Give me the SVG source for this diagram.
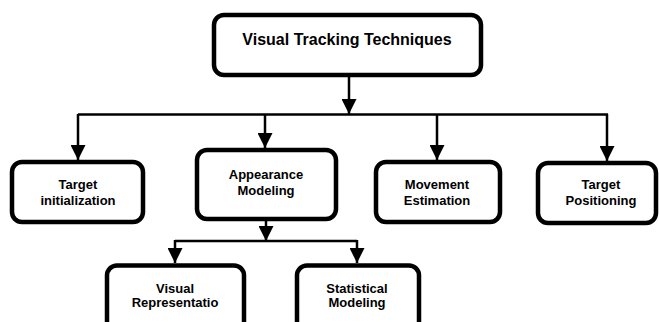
<svg xmlns="http://www.w3.org/2000/svg" width="659" height="322" viewBox="0 0 659 322">
<style>
.box{fill:#fff;stroke:#000;stroke-width:4.5}
.lbl{font-family:"Liberation Sans",Arial,sans-serif;font-weight:bold;font-size:13px;fill:#000;text-anchor:middle}
.ttl{font-size:16px}
.con{fill:none;stroke:#000;stroke-width:2.5}
</style>
<defs>
<marker id="ah" markerUnits="userSpaceOnUse" markerWidth="15" markerHeight="15" refX="15" refY="7.5" orient="auto" viewBox="0 0 15 15">
<path d="M0,0 L15,7.5 L0,15 z" fill="#000"/>
</marker>
</defs>
<rect width="659" height="322" fill="#fff"/>
<g id="connectors">
<path class="con" d="M349,77 V114" marker-end="url(#ah)"/>
<path class="con" d="M78,114.5 H608" stroke-width="3"/>
<path class="con" d="M78,114 V160" marker-end="url(#ah)"/>
<path class="con" d="M265,114 V148" marker-end="url(#ah)"/>
<path class="con" d="M437,114 V160" marker-end="url(#ah)"/>
<path class="con" d="M607,114 V161" marker-end="url(#ah)"/>
<path class="con" d="M266,221 V241" marker-end="url(#ah)"/>
<path class="con" d="M175,241 H357"/>
<path class="con" d="M175,240 V263" marker-end="url(#ah)"/>
<path class="con" d="M357,240 V263" marker-end="url(#ah)"/>
</g>
<g id="n-root">
<rect class="box" x="214" y="15" width="267" height="60" rx="10"/>
<text class="lbl ttl" x="347" y="45">Visual Tracking Techniques</text>
</g>
<g id="n-init">
<rect class="box" x="12" y="162" width="131" height="60" rx="10"/>
<text class="lbl" x="78" y="189">Target</text>
<text class="lbl" x="78" y="205">initialization</text>
</g>
<g id="n-appearance">
<rect class="box" x="197" y="150" width="139" height="69" rx="10"/>
<text class="lbl" x="266" y="179">Appearance</text>
<text class="lbl" x="266" y="195">Modeling</text>
</g>
<g id="n-movement">
<rect class="box" x="376" y="162" width="124" height="60" rx="10"/>
<text class="lbl" x="437" y="189">Movement</text>
<text class="lbl" x="437" y="205">Estimation</text>
</g>
<g id="n-positioning">
<rect class="box" x="538" y="163" width="118" height="60" rx="10"/>
<text class="lbl" x="601" y="189">Target</text>
<text class="lbl" x="601" y="205">Positioning</text>
</g>
<g id="n-visual">
<rect class="box" x="107" y="265.5" width="137" height="80" rx="10"/>
<text class="lbl" x="175" y="293">Visual</text>
<text class="lbl" x="175" y="307">Representatio</text>
</g>
<g id="n-statistical">
<rect class="box" x="297" y="265.5" width="122" height="80" rx="10"/>
<text class="lbl" x="357" y="293">Statistical</text>
<text class="lbl" x="357" y="307">Modeling</text>
</g>
</svg>
